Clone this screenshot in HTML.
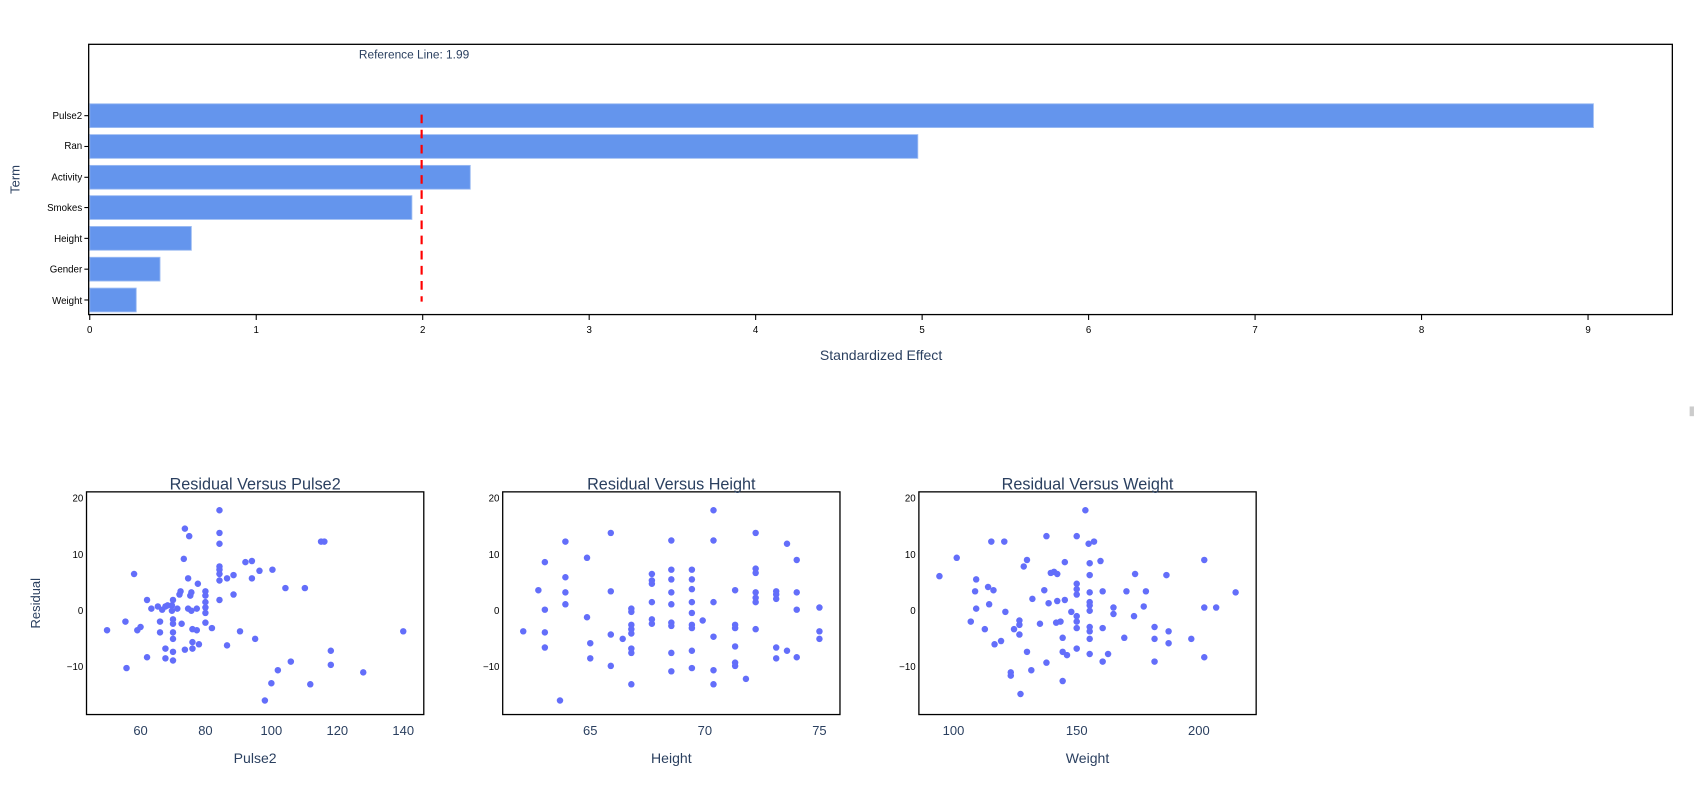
<!DOCTYPE html>
<html><head><meta charset="utf-8"><style>html,body{margin:0;padding:0;background:#fff;}svg{display:block;font-family:"Liberation Sans","DejaVu Sans",sans-serif;}</style></head>
<body>
<svg width="1694" height="794" viewBox="0 0 1567 734.5" xmlns="http://www.w3.org/2000/svg">
<rect width="1567" height="734.5" fill="#fff"/>
<!-- Bar chart -->
<g fill="#6495ED" stroke="#9dbcf2" stroke-width="0.8">
<rect x="83" y="96" width="1391" height="22"/>
<rect x="83" y="124.5" width="766" height="22"/>
<rect x="83" y="153" width="352" height="22"/>
<rect x="83" y="181" width="298" height="22"/>
<rect x="83" y="209.5" width="94" height="22"/>
<rect x="83" y="238" width="65" height="22"/>
<rect x="83" y="266.5" width="43" height="22"/>
</g>
<line x1="390" y1="106" x2="390" y2="279" stroke="#ff0000" stroke-width="2" stroke-dasharray="8,6"/>
<rect x="82" y="41" width="1465" height="250" fill="none" stroke="#000" stroke-width="1.2"/>
<text x="332" y="54" font-size="11" fill="#2a3f5f">Reference Line: 1.99</text>
<g font-size="9" fill="#000" text-anchor="end">
<text x="76" y="110">Pulse2</text><text x="76" y="138">Ran</text><text x="76" y="167">Activity</text><text x="76" y="195">Smokes</text><text x="76" y="224">Height</text><text x="76" y="252">Gender</text><text x="76" y="281">Weight</text>
</g>
<g stroke="#000" stroke-width="1">
<line x1="78" y1="107" x2="82" y2="107"/><line x1="78" y1="135.5" x2="82" y2="135.5"/><line x1="78" y1="164" x2="82" y2="164"/><line x1="78" y1="192" x2="82" y2="192"/><line x1="78" y1="220.5" x2="82" y2="220.5"/><line x1="78" y1="249" x2="82" y2="249"/><line x1="78" y1="277.5" x2="82" y2="277.5"/>
</g>
<g font-size="9" fill="#000" text-anchor="middle" stroke="#000" stroke-width="0">
<text x="83" y="308">0</text><text x="237" y="308">1</text><text x="391" y="308">2</text><text x="545" y="308">3</text><text x="699" y="308">4</text><text x="853" y="308">5</text><text x="1007" y="308">6</text><text x="1161" y="308">7</text><text x="1315" y="308">8</text><text x="1469" y="308">9</text>
</g>
<g stroke="#000" stroke-width="1"><line x1="83" y1="291" x2="83" y2="296"/><line x1="237" y1="291" x2="237" y2="296"/><line x1="391" y1="291" x2="391" y2="296"/><line x1="545" y1="291" x2="545" y2="296"/><line x1="699" y1="291" x2="699" y2="296"/><line x1="853" y1="291" x2="853" y2="296"/><line x1="1007" y1="291" x2="1007" y2="296"/><line x1="1161" y1="291" x2="1161" y2="296"/><line x1="1315" y1="291" x2="1315" y2="296"/><line x1="1469" y1="291" x2="1469" y2="296"/></g>
<text x="815" y="333" font-size="13" fill="#2a3f5f" text-anchor="middle">Standardized Effect</text>
<text x="18" y="166" font-size="12" fill="#2a3f5f" text-anchor="middle" transform="rotate(-90 18 166)">Term</text>
<rect x="1563" y="376" width="4" height="9" fill="#ccc"/>

<!-- Scatter frames -->
<g fill="none" stroke="#000" stroke-width="1.2">
<rect x="80" y="455" width="312" height="206"/>
<rect x="465" y="455" width="312" height="206"/>
<rect x="850" y="455" width="312" height="206"/>
</g>
<g font-size="15" fill="#2a3f5f" text-anchor="middle">
<text x="236" y="453">Residual Versus Pulse2</text>
<text x="621" y="453">Residual Versus Height</text>
<text x="1006" y="453">Residual Versus Weight</text>
</g>
<g font-size="9" fill="#000" text-anchor="end">
<text x="77" y="464">20</text><text x="77" y="516">10</text><text x="77" y="568">0</text><text x="77" y="620">−10</text>
<text x="462" y="464">20</text><text x="462" y="516">10</text><text x="462" y="568">0</text><text x="462" y="620">−10</text>
<text x="847" y="464">20</text><text x="847" y="516">10</text><text x="847" y="568">0</text><text x="847" y="620">−10</text>
</g>
<g font-size="12" fill="#2a3f5f" text-anchor="middle">
<text x="130" y="680">60</text><text x="190" y="680">80</text><text x="251" y="680">100</text><text x="312" y="680">120</text><text x="373" y="680">140</text>
<text x="546" y="680">65</text><text x="652" y="680">70</text><text x="758" y="680">75</text>
<text x="882" y="680">100</text><text x="996" y="680">150</text><text x="1109" y="680">200</text>
<text x="236" y="706" font-size="13">Pulse2</text><text x="621" y="706" font-size="13">Height</text><text x="1006" y="706" font-size="13">Weight</text>
</g>
<text x="37" y="558" font-size="12" fill="#2a3f5f" text-anchor="middle" transform="rotate(-90 37 558)">Residual</text>

<g fill="#636efa">
<!-- Pulse2 -->
<circle cx="99" cy="583" r="3"/><circle cx="116" cy="575" r="3"/><circle cx="124" cy="531" r="3"/><circle cx="117" cy="618" r="3"/><circle cx="130" cy="580" r="3"/><circle cx="127" cy="583" r="3"/><circle cx="136" cy="555" r="3"/><circle cx="140" cy="563" r="3"/><circle cx="136" cy="608" r="3"/><circle cx="146" cy="561" r="3"/><circle cx="148" cy="585" r="3"/><circle cx="148" cy="575" r="3"/><circle cx="150" cy="564" r="3"/><circle cx="153" cy="561" r="3"/><circle cx="155" cy="560" r="3"/><circle cx="153" cy="600" r="3"/><circle cx="153" cy="609" r="3"/><circle cx="160" cy="555" r="3"/><circle cx="159" cy="560" r="3"/><circle cx="159" cy="565" r="3"/><circle cx="160" cy="573" r="3"/><circle cx="160" cy="577" r="3"/><circle cx="160" cy="585" r="3"/><circle cx="160" cy="591" r="3"/><circle cx="160" cy="603" r="3"/><circle cx="160" cy="611" r="3"/><circle cx="164" cy="563" r="3"/><circle cx="166" cy="550" r="3"/><circle cx="167" cy="547" r="3"/><circle cx="168" cy="577" r="3"/><circle cx="170" cy="517" r="3"/><circle cx="171" cy="489" r="3"/><circle cx="171" cy="601" r="3"/><circle cx="174" cy="563" r="3"/><circle cx="174" cy="535" r="3"/><circle cx="175" cy="496" r="3"/><circle cx="176" cy="551" r="3"/><circle cx="177" cy="548" r="3"/><circle cx="177" cy="565" r="3"/><circle cx="178" cy="582" r="3"/><circle cx="178" cy="594" r="3"/><circle cx="178" cy="600" r="3"/><circle cx="182" cy="563" r="3"/><circle cx="182" cy="583" r="3"/><circle cx="183" cy="540" r="3"/><circle cx="184" cy="596" r="3"/><circle cx="190" cy="547" r="3"/><circle cx="190" cy="551" r="3"/><circle cx="190" cy="557" r="3"/><circle cx="190" cy="562" r="3"/><circle cx="190" cy="576" r="3"/><circle cx="190" cy="567" r="3"/><circle cx="196" cy="581" r="3"/><circle cx="203" cy="472" r="3"/><circle cx="203" cy="493" r="3"/><circle cx="203" cy="503" r="3"/><circle cx="203" cy="524" r="3"/><circle cx="203" cy="527" r="3"/><circle cx="203" cy="531" r="3"/><circle cx="203" cy="537" r="3"/><circle cx="203" cy="555" r="3"/><circle cx="210" cy="597" r="3"/><circle cx="210" cy="535" r="3"/><circle cx="216" cy="550" r="3"/><circle cx="222" cy="584" r="3"/><circle cx="227" cy="520" r="3"/><circle cx="233" cy="519" r="3"/><circle cx="236" cy="591" r="3"/><circle cx="233" cy="535" r="3"/><circle cx="240" cy="528" r="3"/><circle cx="245" cy="648" r="3"/><circle cx="251" cy="632" r="3"/><circle cx="252" cy="527" r="3"/><circle cx="257" cy="620" r="3"/><circle cx="264" cy="544" r="3"/><circle cx="269" cy="612" r="3"/><circle cx="282" cy="544" r="3"/><circle cx="287" cy="633" r="3"/><circle cx="297" cy="501" r="3"/><circle cx="300" cy="501" r="3"/><circle cx="306" cy="602" r="3"/><circle cx="306" cy="615" r="3"/><circle cx="336" cy="622" r="3"/><circle cx="373" cy="584" r="3"/><circle cx="216" cy="532" r="3"/>
<!-- Height -->
<circle cx="484" cy="584" r="3"/><circle cx="498" cy="546" r="3"/><circle cx="504" cy="520" r="3"/><circle cx="504" cy="564" r="3"/><circle cx="504" cy="585" r="3"/><circle cx="504" cy="599" r="3"/><circle cx="523" cy="501" r="3"/><circle cx="523" cy="534" r="3"/><circle cx="523" cy="548" r="3"/><circle cx="523" cy="559" r="3"/><circle cx="518" cy="648" r="3"/><circle cx="543" cy="516" r="3"/><circle cx="543" cy="571" r="3"/><circle cx="546" cy="595" r="3"/><circle cx="546" cy="609" r="3"/><circle cx="565" cy="493" r="3"/><circle cx="565" cy="547" r="3"/><circle cx="565" cy="587" r="3"/><circle cx="565" cy="616" r="3"/><circle cx="576" cy="591" r="3"/><circle cx="584" cy="604" r="3"/><circle cx="584" cy="563" r="3"/><circle cx="584" cy="566" r="3"/><circle cx="584" cy="578" r="3"/><circle cx="584" cy="582" r="3"/><circle cx="584" cy="586" r="3"/><circle cx="584" cy="600" r="3"/><circle cx="584" cy="633" r="3"/><circle cx="603" cy="531" r="3"/><circle cx="603" cy="537" r="3"/><circle cx="603" cy="540" r="3"/><circle cx="603" cy="557" r="3"/><circle cx="603" cy="573" r="3"/><circle cx="603" cy="577" r="3"/><circle cx="621" cy="500" r="3"/><circle cx="621" cy="527" r="3"/><circle cx="621" cy="536" r="3"/><circle cx="621" cy="548" r="3"/><circle cx="621" cy="559" r="3"/><circle cx="621" cy="576" r="3"/><circle cx="621" cy="579" r="3"/><circle cx="621" cy="604" r="3"/><circle cx="621" cy="621" r="3"/><circle cx="640" cy="527" r="3"/><circle cx="640" cy="536" r="3"/><circle cx="640" cy="545" r="3"/><circle cx="640" cy="557" r="3"/><circle cx="640" cy="567" r="3"/><circle cx="640" cy="578" r="3"/><circle cx="640" cy="581" r="3"/><circle cx="640" cy="602" r="3"/><circle cx="640" cy="618" r="3"/><circle cx="650" cy="574" r="3"/><circle cx="660" cy="472" r="3"/><circle cx="660" cy="500" r="3"/><circle cx="660" cy="557" r="3"/><circle cx="660" cy="589" r="3"/><circle cx="660" cy="620" r="3"/><circle cx="660" cy="633" r="3"/><circle cx="680" cy="546" r="3"/><circle cx="680" cy="578" r="3"/><circle cx="680" cy="581" r="3"/><circle cx="680" cy="598" r="3"/><circle cx="680" cy="613" r="3"/><circle cx="680" cy="616" r="3"/><circle cx="690" cy="628" r="3"/><circle cx="699" cy="493" r="3"/><circle cx="699" cy="526" r="3"/><circle cx="699" cy="530" r="3"/><circle cx="699" cy="548" r="3"/><circle cx="699" cy="553" r="3"/><circle cx="699" cy="557" r="3"/><circle cx="699" cy="582" r="3"/><circle cx="718" cy="547" r="3"/><circle cx="718" cy="550" r="3"/><circle cx="718" cy="554" r="3"/><circle cx="718" cy="599" r="3"/><circle cx="718" cy="609" r="3"/><circle cx="728" cy="503" r="3"/><circle cx="728" cy="602" r="3"/><circle cx="737" cy="518" r="3"/><circle cx="737" cy="548" r="3"/><circle cx="737" cy="564" r="3"/><circle cx="737" cy="608" r="3"/><circle cx="758" cy="562" r="3"/><circle cx="758" cy="584" r="3"/><circle cx="758" cy="591" r="3"/>
<!-- Weight -->
<circle cx="869" cy="533" r="3"/><circle cx="885" cy="516" r="3"/><circle cx="898" cy="575" r="3"/><circle cx="902" cy="547" r="3"/><circle cx="903" cy="536" r="3"/><circle cx="903" cy="563" r="3"/><circle cx="911" cy="582" r="3"/><circle cx="914" cy="543" r="3"/><circle cx="915" cy="559" r="3"/><circle cx="917" cy="501" r="3"/><circle cx="919" cy="546" r="3"/><circle cx="920" cy="596" r="3"/><circle cx="926" cy="593" r="3"/><circle cx="929" cy="501" r="3"/><circle cx="930" cy="566" r="3"/><circle cx="935" cy="622" r="3"/><circle cx="935" cy="625" r="3"/><circle cx="938" cy="582" r="3"/><circle cx="944" cy="642" r="3"/><circle cx="943" cy="587" r="3"/><circle cx="943" cy="578" r="3"/><circle cx="943" cy="574" r="3"/><circle cx="947" cy="524" r="3"/><circle cx="950" cy="518" r="3"/><circle cx="950" cy="603" r="3"/><circle cx="955" cy="554" r="3"/><circle cx="954" cy="620" r="3"/><circle cx="962" cy="577" r="3"/><circle cx="966" cy="546" r="3"/><circle cx="968" cy="496" r="3"/><circle cx="968" cy="613" r="3"/><circle cx="970" cy="558" r="3"/><circle cx="972" cy="530" r="3"/><circle cx="975" cy="529" r="3"/><circle cx="978" cy="531" r="3"/><circle cx="978" cy="556" r="3"/><circle cx="977" cy="576" r="3"/><circle cx="981" cy="575" r="3"/><circle cx="983" cy="590" r="3"/><circle cx="983" cy="603" r="3"/><circle cx="983" cy="630" r="3"/><circle cx="985" cy="520" r="3"/><circle cx="985" cy="555" r="3"/><circle cx="987" cy="606" r="3"/><circle cx="991" cy="566" r="3"/><circle cx="996" cy="540" r="3"/><circle cx="996" cy="545" r="3"/><circle cx="996" cy="550" r="3"/><circle cx="996" cy="570" r="3"/><circle cx="996" cy="575" r="3"/><circle cx="996" cy="581" r="3"/><circle cx="996" cy="600" r="3"/><circle cx="996" cy="496" r="3"/><circle cx="1004" cy="472" r="3"/><circle cx="1008" cy="591" r="3"/><circle cx="1008" cy="605" r="3"/><circle cx="1008" cy="521" r="3"/><circle cx="1008" cy="532" r="3"/><circle cx="1008" cy="548" r="3"/><circle cx="1008" cy="557" r="3"/><circle cx="1008" cy="560" r="3"/><circle cx="1008" cy="565" r="3"/><circle cx="1008" cy="580" r="3"/><circle cx="1008" cy="584" r="3"/><circle cx="1007" cy="503" r="3"/><circle cx="1012" cy="501" r="3"/><circle cx="1020" cy="581" r="3"/><circle cx="1020" cy="612" r="3"/><circle cx="1020" cy="547" r="3"/><circle cx="1018" cy="519" r="3"/><circle cx="1025" cy="605" r="3"/><circle cx="1030" cy="562" r="3"/><circle cx="1030" cy="568" r="3"/><circle cx="1040" cy="590" r="3"/><circle cx="1042" cy="547" r="3"/><circle cx="1049" cy="570" r="3"/><circle cx="1050" cy="531" r="3"/><circle cx="1058" cy="561" r="3"/><circle cx="1060" cy="547" r="3"/><circle cx="1068" cy="591" r="3"/><circle cx="1068" cy="612" r="3"/><circle cx="1081" cy="595" r="3"/><circle cx="1081" cy="584" r="3"/><circle cx="1068" cy="580" r="3"/><circle cx="1102" cy="591" r="3"/><circle cx="1114" cy="562" r="3"/><circle cx="1114" cy="608" r="3"/><circle cx="1114" cy="518" r="3"/><circle cx="1125" cy="562" r="3"/><circle cx="1143" cy="548" r="3"/><circle cx="1079" cy="532" r="3"/>
</g>
</svg>
</body></html>
